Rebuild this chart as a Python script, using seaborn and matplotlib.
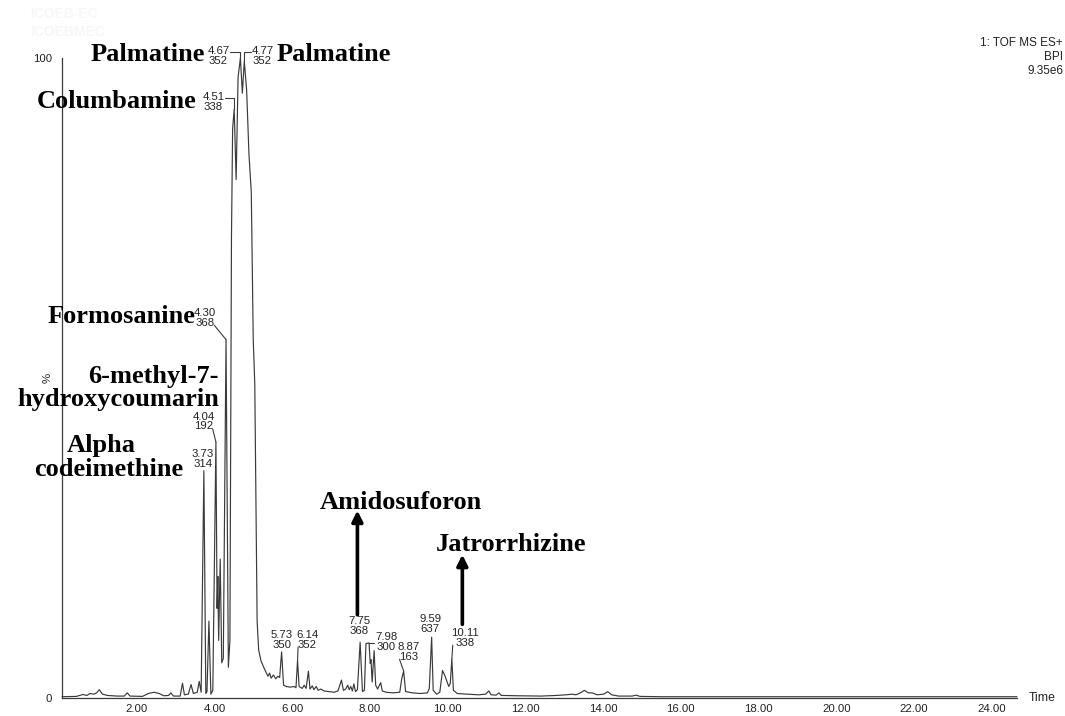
import numpy as np
import pandas as pd
import matplotlib
matplotlib.use("Agg")
import matplotlib.pyplot as plt
from matplotlib.ticker import MultipleLocator, FuncFormatter
import seaborn as sns

# Base peak intensity chromatogram: retention time (min) and relative intensity (%)
time_min = [
    0.08, 0.45, 0.62, 0.72, 0.80, 0.90, 0.97, 1.04, 1.12, 1.25, 1.50, 1.68, 1.76, 1.83,
    2.15, 2.30, 2.45, 2.58, 2.70, 2.82, 2.88, 2.95, 3.12, 3.18, 3.23, 3.33, 3.40, 3.46,
    3.56, 3.61, 3.66, 3.73, 3.78, 3.81, 3.86, 3.91, 3.96, 4.04, 4.07, 4.09, 4.11, 4.15,
    4.19, 4.23, 4.30, 4.36, 4.40, 4.44, 4.47, 4.51, 4.56, 4.61, 4.67, 4.72, 4.77, 4.83,
    4.89, 4.95, 5.00, 5.04, 5.07, 5.10, 5.14, 5.20, 5.27, 5.33, 5.38, 5.42, 5.46, 5.52,
    5.58, 5.63, 5.68, 5.73, 5.78, 5.85, 5.95, 6.05, 6.10, 6.14, 6.18, 6.26, 6.31, 6.36,
    6.42, 6.46, 6.52, 6.56, 6.62, 6.67, 6.74, 6.82, 6.95, 7.08, 7.18, 7.27, 7.32, 7.38,
    7.43, 7.47, 7.51, 7.55, 7.59, 7.63, 7.68, 7.75, 7.81, 7.86, 7.90, 7.98, 8.01, 8.03,
    8.06, 8.11, 8.15, 8.20, 8.28, 8.32, 8.42, 8.60, 8.77, 8.82, 8.87, 8.92, 9.10, 9.30,
    9.48, 9.53, 9.59, 9.63, 9.72, 9.80, 9.87, 9.93, 10.03, 10.07, 10.11, 10.15, 10.25,
    10.50, 10.80, 10.98, 11.06, 11.12, 11.25, 11.32, 11.38, 11.80, 12.40, 12.80, 13.05,
    13.20, 13.30, 13.42, 13.52, 13.62, 13.72, 13.85, 14.02, 14.12, 14.22, 14.40, 14.75,
    14.85, 14.95, 15.50, 24.65,
]
bpi_pct = [
    0.2, 0.25, 0.55, 0.4, 0.7, 0.6, 0.8, 1.3, 0.6, 0.4, 0.3, 0.3, 0.8, 0.3,
    0.25, 0.7, 0.9, 0.7, 0.35, 0.4, 0.8, 0.3, 0.3, 2.3, 0.5, 0.6, 2.1, 0.7,
    0.9, 2.6, 0.9, 35.5, 0.7, 1.0, 12.0, 0.6, 1.2, 40.0, 14.0, 19.0, 9.0, 21.7,
    5.5, 6.2, 56.0, 4.8, 9.0, 72.0, 89.0, 92.0, 81.0, 97.0, 100.0, 94.5, 99.5, 95.0,
    85.0, 79.0, 56.0, 49.0, 30.0, 12.0, 7.5, 5.8, 4.8, 4.0, 3.4, 3.9, 3.1, 3.6,
    3.0, 3.4, 3.2, 7.2, 2.0, 1.8, 1.7, 1.8, 1.6, 5.9, 1.8, 1.5, 2.0, 1.5,
    4.2, 1.4, 1.9, 1.3, 1.8, 1.2, 1.4, 1.1, 1.0, 0.9, 1.1, 2.8, 1.2, 1.4,
    2.0, 1.3, 1.8, 1.1, 2.2, 1.0, 1.3, 8.7, 1.0, 1.2, 8.5, 8.6, 5.4, 6.0,
    2.5, 7.4, 2.0, 1.4, 2.4, 1.1, 0.9, 0.8, 0.9, 3.0, 4.2, 1.0, 0.8, 0.7,
    0.8, 1.5, 9.5, 1.2, 0.6, 0.9, 4.3, 3.5, 1.8, 2.3, 6.1, 1.2, 0.7,
    0.6, 0.5, 0.6, 1.1, 0.5, 0.45, 0.8, 0.4, 0.35, 0.3, 0.4, 0.5,
    0.6, 0.5, 0.8, 1.2, 0.8, 0.8, 0.5, 0.6, 1.0, 0.5, 0.3, 0.3,
    0.45, 0.25, 0.2, 0.2,
]

# Labelled peaks: retention time (min) and base-peak m/z
peak_rt = [3.73, 4.04, 4.30, 4.51, 4.67, 4.77, 5.73, 6.14, 7.75, 7.98, 8.87, 9.59, 10.11]
peak_mz = [314, 192, 368, 338, 352, 352, 350, 352, 368, 300, 163, 637, 338]

# Identified compounds
compound_names = [
    "Palmatine", "Palmatine", "Columbamine", "Formosanine",
    "6-methyl-7-\nhydroxycoumarin", "Alpha\ncodeimethine",
    "Amidosuforon", "Jatrorrhizine",
]

# Axis labels and header
x_label_every = 2.0
y_tick_values = [0, 50, 100]
y_tick_labels = ["0", "%", "100"]
header_lines = ["1: TOF MS ES+", "BPI", "9.35e6"]
run_ids = ["ICOEB-EC", "ICOEBMEC"]

# ---------------------------------------------------------------- layout
# peak label placement: (text x, text y, alignment, leader style)
peak_label_layout = [
    (3.70, 37.4, "center", None),
    (3.72, 43.2, "center", "diag_r"),
    (3.76, 59.4, "center", "diag_r"),
    (4.26, 93.1, "right", "bracket_r"),
    (4.39, 100.3, "right", "bracket_r"),
    (4.95, 100.3, "left", "bracket_l"),
    (5.73, 9.1, "center", None),
    (6.39, 9.1, "center", "diag_l"),
    (7.73, 11.2, "center", None),
    (8.42, 8.7, "center", "flat"),
    (9.00, 7.2, "center", "diag_l"),
    (9.55, 11.6, "center", None),
    (10.44, 9.4, "center", "diag_l"),
]
# compound name placement, one entry per text line: (x, y, ha, va)
compound_layout = [
    [(3.75, 100.5, "right", "center")],
    [(5.60, 100.5, "left", "center")],
    [(3.54, 93.2, "right", "center")],
    [(3.52, 59.6, "right", "center")],
    [(4.12, 49.2, "right", "baseline"), (4.12, 45.6, "right", "baseline")],
    [(1.10, 38.5, "center", "baseline"), (1.28, 34.7, "center", "baseline")],
    [(6.70, 30.6, "left", "center")],
    [(9.70, 24.0, "left", "center")],
]
# arrows under the last two names: (x, tail y, head y)
arrow_layout = [(7.68, 13.0, 29.3), (10.38, 11.5, 22.4)]

LINE = "#3a3a3a"
SANS = ["Liberation Sans", "DejaVu Sans"]
SERIF = ["Liberation Serif", "DejaVu Serif"]

sns.set_theme(style="white")
plt.rcParams["font.family"] = SANS
plt.rcParams["axes.unicode_minus"] = False

fig = plt.figure(figsize=(10.65, 7.16), dpi=100)
fig.patch.set_facecolor("white")
ax = fig.add_axes([62 / 1065, 18 / 716, (1017 - 62) / 1065, (698 - 58) / 716])
ax.set_facecolor("white")

df = pd.DataFrame({"time": time_min, "bpi": bpi_pct})
sns.lineplot(data=df, x="time", y="bpi", sort=False, estimator=None,
             color=LINE, linewidth=0.85, ax=ax, clip_on=False)

ax.set_xlim(0.08, 24.65)
ax.set_ylim(0, 100)
for side in ("top", "right"):
    ax.spines[side].set_visible(False)
for side in ("left", "bottom"):
    ax.spines[side].set_color(LINE)
    ax.spines[side].set_linewidth(0.9)
ax.set_xlabel("")
ax.set_ylabel("")

ax.xaxis.set_major_locator(MultipleLocator(1.0))
ax.xaxis.set_minor_locator(MultipleLocator(0.2))
ax.xaxis.set_major_formatter(FuncFormatter(
    lambda v, p: f"{v:.2f}" if v > 0.5 and abs(v / x_label_every - round(v / x_label_every)) < 1e-6 else ""))
ax.set_yticks(y_tick_values)
ax.set_yticklabels(y_tick_labels)
ax.yaxis.set_minor_locator(MultipleLocator(10))
ax.tick_params(axis="both", which="both", direction="out", color=LINE,
               labelcolor="#222222", labelsize=8.2, width=0.8)
ax.tick_params(axis="x", which="major", length=4, pad=0.5)
ax.tick_params(axis="x", which="minor", length=2.5)
ax.tick_params(axis="y", which="major", length=5, pad=2)
ax.tick_params(axis="y", which="minor", length=3)
for lab in ax.get_yticklabels():
    if lab.get_text() == "%":
        lab.set_rotation(90)
        lab.set_va("center")

ax.text(1.012, 0.0, "Time", transform=ax.transAxes, ha="left", va="center",
        fontsize=8.8, color="#222222")

for i, line in enumerate(header_lines):
    fig.text(1063 / 1065, 1 - (43 + 14 * i) / 716, line, ha="right", va="center",
             fontsize=8.5, color="#222222")
for i, rid in enumerate(run_ids):
    fig.text(30 / 1065, 1 - (14 + 18 * i) / 716, rid, ha="left", va="center",
             fontsize=10, fontweight="bold", color="#f7f7f7")

# peak labels: retention time over m/z
label_artists = []
for rt, mz, (tx, ty, ha, _) in zip(peak_rt, peak_mz, peak_label_layout):
    t = ax.text(tx, ty, f"{rt:.2f}\n{mz}", ha=ha, va="center", fontsize=8.2,
                linespacing=0.98, color="#222222", clip_on=False, multialignment="center")
    label_artists.append(t)

# compound names, each line placed on its own
for name, lines_pos in zip(compound_names, compound_layout):
    for text_line, (x, y, ha, va) in zip(name.split("\n"), lines_pos):
        ax.text(x, y, text_line, ha=ha, va=va, fontsize=19, fontweight="bold",
                family=SERIF, color="black", clip_on=False)

for x, y0, y1 in arrow_layout:
    ax.annotate("", xy=(x, y1), xytext=(x, y0), annotation_clip=False,
                arrowprops=dict(arrowstyle="-|>", color="black", lw=2.6,
                                mutation_scale=16, shrinkA=0, shrinkB=0))

# leader lines from labels to the peak apexes
fig.canvas.draw()
renderer = fig.canvas.get_renderer()
inv = ax.transData.inverted()
for rt, art, (tx, ty, ha, style) in zip(peak_rt, label_artists, peak_label_layout):
    if style is None:
        continue
    h = float(np.interp(rt, time_min, bpi_pct))
    bb = art.get_window_extent(renderer)
    (x0, y0) = inv.transform((bb.x0, bb.y0))
    (x1, y1) = inv.transform((bb.x1, bb.y1))
    if style == "diag_r":
        xs, ys = [x1 - 0.05, rt], [y0 + 0.4, h]
    elif style == "diag_l":
        xs, ys = [x0 + 0.05, rt], [y0 + 0.4, h]
    elif style == "bracket_r":
        lev = y1 - 0.9
        xs, ys = [x1 + 0.02, rt, rt], [lev, lev, h]
    elif style == "bracket_l":
        lev = y1 - 0.9
        xs, ys = [rt, rt, x0 - 0.02], [h, lev, lev]
    else:  # flat
        xs, ys = [rt, x0 - 0.02], [h, h]
    ax.plot(xs, ys, color=LINE, lw=0.8, clip_on=False)

fig.savefig("out.png", dpi=100, facecolor="white")
